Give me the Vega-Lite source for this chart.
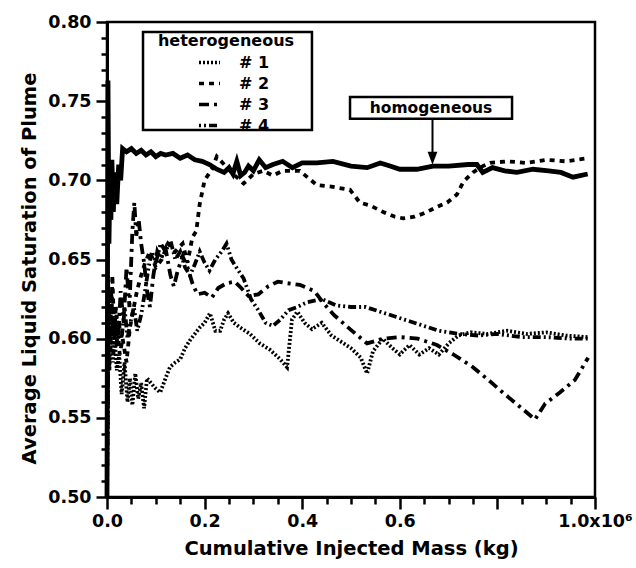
{
  "$schema": "https://vega.github.io/schema/vega-lite/v6.json",
  "width": 488,
  "height": 475,
  "autosize": {"type": "none"},
  "padding": {"left": 107, "top": 22, "right": 41, "bottom": 71},
  "background": "white",
  "config": {
    "font": "DejaVu Sans",
    "view": {"stroke": "black", "strokeWidth": 2.5},
    "axis": {
      "domainColor": "black", "domainWidth": 3, "tickColor": "black", "tickWidth": 2.5,
      "labelColor": "black", "titleColor": "black", "grid": false,
      "labelFont": "DejaVu Sans", "labelFontSize": 17.5, "labelFontWeight": "bold",
      "titleFont": "DejaVu Sans", "titleFontSize": 19.5, "titleFontWeight": "bold",
      "labelOverlap": false, "labelFlush": false, "labelBound": false
    },
    "legend": {
      "orient": "none", "legendX": 51, "legendY": 11, "padding": 0,
      "titleFont": "DejaVu Sans", "titleFontSize": 16, "titleFontWeight": "bold", "titleColor": "black",
      "titlePadding": 1, "titleAnchor": "middle",
      "labelFont": "DejaVu Sans", "labelFontSize": 16, "labelFontWeight": "bold", "labelColor": "black",
      "symbolType": "stroke", "symbolSize": 441, "symbolStrokeWidth": 3.5, "symbolStrokeColor": "black",
      "symbolOffset": 15, "labelOffset": 17, "rowPadding": -1
    }
  },
  "datasets": {
    "het": [
      {"series":"# 1","mass":0,"sat":0.5},{"series":"# 1","mass":2000,"sat":0.6},{"series":"# 1","mass":5000,"sat":0.58},{"series":"# 1","mass":8000,"sat":0.615},{"series":"# 1","mass":12000,"sat":0.585},{"series":"# 1","mass":16000,"sat":0.6},{"series":"# 1","mass":20000,"sat":0.58},{"series":"# 1","mass":25000,"sat":0.59},{"series":"# 1","mass":30000,"sat":0.565},{"series":"# 1","mass":36000,"sat":0.585},{"series":"# 1","mass":42000,"sat":0.56},{"series":"# 1","mass":47000,"sat":0.575},{"series":"# 1","mass":52000,"sat":0.558},{"series":"# 1","mass":58000,"sat":0.578},{"series":"# 1","mass":64000,"sat":0.562},{"series":"# 1","mass":70000,"sat":0.572},{"series":"# 1","mass":76000,"sat":0.556},{"series":"# 1","mass":82000,"sat":0.575},{"series":"# 1","mass":90000,"sat":0.572},{"series":"# 1","mass":98000,"sat":0.569},{"series":"# 1","mass":109000,"sat":0.566},{"series":"# 1","mass":120000,"sat":0.575},{"series":"# 1","mass":129000,"sat":0.582},{"series":"# 1","mass":140000,"sat":0.585},{"series":"# 1","mass":150000,"sat":0.587},{"series":"# 1","mass":160000,"sat":0.594},{"series":"# 1","mass":170000,"sat":0.599},{"series":"# 1","mass":180000,"sat":0.603},{"series":"# 1","mass":190000,"sat":0.607},{"series":"# 1","mass":200000,"sat":0.61},{"series":"# 1","mass":211000,"sat":0.616},{"series":"# 1","mass":222000,"sat":0.605},{"series":"# 1","mass":232000,"sat":0.605},{"series":"# 1","mass":240000,"sat":0.612},{"series":"# 1","mass":248000,"sat":0.616},{"series":"# 1","mass":260000,"sat":0.61},{"series":"# 1","mass":273000,"sat":0.607},{"series":"# 1","mass":293000,"sat":0.603},{"series":"# 1","mass":313000,"sat":0.597},{"series":"# 1","mass":334000,"sat":0.593},{"series":"# 1","mass":355000,"sat":0.587},{"series":"# 1","mass":369000,"sat":0.582},{"series":"# 1","mass":379000,"sat":0.612},{"series":"# 1","mass":390000,"sat":0.617},{"series":"# 1","mass":405000,"sat":0.61},{"series":"# 1","mass":420000,"sat":0.606},{"series":"# 1","mass":440000,"sat":0.61},{"series":"# 1","mass":460000,"sat":0.602},{"series":"# 1","mass":480000,"sat":0.598},{"series":"# 1","mass":500000,"sat":0.594},{"series":"# 1","mass":520000,"sat":0.588},{"series":"# 1","mass":533000,"sat":0.578},{"series":"# 1","mass":545000,"sat":0.592},{"series":"# 1","mass":565000,"sat":0.6},{"series":"# 1","mass":585000,"sat":0.594},{"series":"# 1","mass":600000,"sat":0.59},{"series":"# 1","mass":620000,"sat":0.596},{"series":"# 1","mass":640000,"sat":0.59},{"series":"# 1","mass":660000,"sat":0.594},{"series":"# 1","mass":680000,"sat":0.59},{"series":"# 1","mass":700000,"sat":0.597},{"series":"# 1","mass":720000,"sat":0.602},{"series":"# 1","mass":745000,"sat":0.604},{"series":"# 1","mass":780000,"sat":0.603},{"series":"# 1","mass":820000,"sat":0.605},{"series":"# 1","mass":860000,"sat":0.603},{"series":"# 1","mass":900000,"sat":0.604},{"series":"# 1","mass":940000,"sat":0.602},{"series":"# 1","mass":985000,"sat":0.601},

      {"series":"# 2","mass":0,"sat":0.5},{"series":"# 2","mass":3000,"sat":0.62},{"series":"# 2","mass":7000,"sat":0.59},{"series":"# 2","mass":11000,"sat":0.64},{"series":"# 2","mass":15000,"sat":0.6},{"series":"# 2","mass":20000,"sat":0.615},{"series":"# 2","mass":26000,"sat":0.59},{"series":"# 2","mass":32000,"sat":0.6},{"series":"# 2","mass":40000,"sat":0.585},{"series":"# 2","mass":47000,"sat":0.607},{"series":"# 2","mass":55000,"sat":0.62},{"series":"# 2","mass":62000,"sat":0.631},{"series":"# 2","mass":70000,"sat":0.64},{"series":"# 2","mass":78000,"sat":0.648},{"series":"# 2","mass":88000,"sat":0.655},{"series":"# 2","mass":100000,"sat":0.645},{"series":"# 2","mass":112000,"sat":0.65},{"series":"# 2","mass":125000,"sat":0.66},{"series":"# 2","mass":140000,"sat":0.655},{"series":"# 2","mass":155000,"sat":0.66},{"series":"# 2","mass":165000,"sat":0.648},{"series":"# 2","mass":175000,"sat":0.664},{"series":"# 2","mass":183000,"sat":0.668},{"series":"# 2","mass":190000,"sat":0.685},{"series":"# 2","mass":200000,"sat":0.7},{"series":"# 2","mass":215000,"sat":0.707},{"series":"# 2","mass":225000,"sat":0.715},{"series":"# 2","mass":240000,"sat":0.71},{"series":"# 2","mass":255000,"sat":0.705},{"series":"# 2","mass":280000,"sat":0.698},{"series":"# 2","mass":300000,"sat":0.704},{"series":"# 2","mass":320000,"sat":0.706},{"series":"# 2","mass":340000,"sat":0.703},{"series":"# 2","mass":360000,"sat":0.706},{"series":"# 2","mass":395000,"sat":0.706},{"series":"# 2","mass":430000,"sat":0.697},{"series":"# 2","mass":460000,"sat":0.696},{"series":"# 2","mass":498000,"sat":0.694},{"series":"# 2","mass":518000,"sat":0.686},{"series":"# 2","mass":540000,"sat":0.684},{"series":"# 2","mass":566000,"sat":0.68},{"series":"# 2","mass":590000,"sat":0.677},{"series":"# 2","mass":607000,"sat":0.676},{"series":"# 2","mass":630000,"sat":0.677},{"series":"# 2","mass":648000,"sat":0.679},{"series":"# 2","mass":675000,"sat":0.683},{"series":"# 2","mass":697000,"sat":0.686},{"series":"# 2","mass":717000,"sat":0.691},{"series":"# 2","mass":730000,"sat":0.699},{"series":"# 2","mass":750000,"sat":0.705},{"series":"# 2","mass":770000,"sat":0.709},{"series":"# 2","mass":785000,"sat":0.711},{"series":"# 2","mass":820000,"sat":0.712},{"series":"# 2","mass":860000,"sat":0.711},{"series":"# 2","mass":900000,"sat":0.713},{"series":"# 2","mass":940000,"sat":0.712},{"series":"# 2","mass":985000,"sat":0.714},

      {"series":"# 3","mass":0,"sat":0.5},{"series":"# 3","mass":2000,"sat":0.64},{"series":"# 3","mass":5000,"sat":0.6},{"series":"# 3","mass":9000,"sat":0.63},{"series":"# 3","mass":13000,"sat":0.59},{"series":"# 3","mass":18000,"sat":0.62},{"series":"# 3","mass":23000,"sat":0.6},{"series":"# 3","mass":28000,"sat":0.63},{"series":"# 3","mass":34000,"sat":0.61},{"series":"# 3","mass":40000,"sat":0.645},{"series":"# 3","mass":46000,"sat":0.62},{"series":"# 3","mass":52000,"sat":0.668},{"series":"# 3","mass":56000,"sat":0.686},{"series":"# 3","mass":60000,"sat":0.665},{"series":"# 3","mass":65000,"sat":0.675},{"series":"# 3","mass":70000,"sat":0.66},{"series":"# 3","mass":76000,"sat":0.648},{"series":"# 3","mass":82000,"sat":0.63},{"series":"# 3","mass":88000,"sat":0.62},{"series":"# 3","mass":95000,"sat":0.64},{"series":"# 3","mass":103000,"sat":0.655},{"series":"# 3","mass":110000,"sat":0.65},{"series":"# 3","mass":120000,"sat":0.657},{"series":"# 3","mass":130000,"sat":0.64},{"series":"# 3","mass":137000,"sat":0.633},{"series":"# 3","mass":145000,"sat":0.643},{"series":"# 3","mass":155000,"sat":0.652},{"series":"# 3","mass":165000,"sat":0.645},{"series":"# 3","mass":175000,"sat":0.635},{"series":"# 3","mass":185000,"sat":0.628},{"series":"# 3","mass":200000,"sat":0.629},{"series":"# 3","mass":215000,"sat":0.626},{"series":"# 3","mass":228000,"sat":0.632},{"series":"# 3","mass":245000,"sat":0.635},{"series":"# 3","mass":262000,"sat":0.636},{"series":"# 3","mass":275000,"sat":0.632},{"series":"# 3","mass":290000,"sat":0.627},{"series":"# 3","mass":310000,"sat":0.628},{"series":"# 3","mass":330000,"sat":0.633},{"series":"# 3","mass":350000,"sat":0.636},{"series":"# 3","mass":370000,"sat":0.635},{"series":"# 3","mass":395000,"sat":0.634},{"series":"# 3","mass":425000,"sat":0.63},{"series":"# 3","mass":445000,"sat":0.622},{"series":"# 3","mass":465000,"sat":0.615},{"series":"# 3","mass":498000,"sat":0.606},{"series":"# 3","mass":533000,"sat":0.597},{"series":"# 3","mass":566000,"sat":0.6},{"series":"# 3","mass":600000,"sat":0.601},{"series":"# 3","mass":637000,"sat":0.6},{"series":"# 3","mass":676000,"sat":0.596},{"series":"# 3","mass":710000,"sat":0.59},{"series":"# 3","mass":750000,"sat":0.582},{"series":"# 3","mass":785000,"sat":0.573},{"series":"# 3","mass":811000,"sat":0.566},{"series":"# 3","mass":846000,"sat":0.557},{"series":"# 3","mass":877000,"sat":0.549},{"series":"# 3","mass":898000,"sat":0.559},{"series":"# 3","mass":928000,"sat":0.566},{"series":"# 3","mass":959000,"sat":0.574},{"series":"# 3","mass":986000,"sat":0.588},

      {"series":"# 4","mass":0,"sat":0.5},{"series":"# 4","mass":3000,"sat":0.6},{"series":"# 4","mass":6000,"sat":0.63},{"series":"# 4","mass":10000,"sat":0.6},{"series":"# 4","mass":14000,"sat":0.62},{"series":"# 4","mass":19000,"sat":0.595},{"series":"# 4","mass":24000,"sat":0.61},{"series":"# 4","mass":30000,"sat":0.6},{"series":"# 4","mass":36000,"sat":0.62},{"series":"# 4","mass":42000,"sat":0.6},{"series":"# 4","mass":48000,"sat":0.61},{"series":"# 4","mass":55000,"sat":0.62},{"series":"# 4","mass":62000,"sat":0.605},{"series":"# 4","mass":70000,"sat":0.615},{"series":"# 4","mass":78000,"sat":0.63},{"series":"# 4","mass":85000,"sat":0.645},{"series":"# 4","mass":92000,"sat":0.655},{"series":"# 4","mass":100000,"sat":0.648},{"series":"# 4","mass":110000,"sat":0.66},{"series":"# 4","mass":120000,"sat":0.655},{"series":"# 4","mass":130000,"sat":0.662},{"series":"# 4","mass":140000,"sat":0.65},{"series":"# 4","mass":150000,"sat":0.655},{"series":"# 4","mass":160000,"sat":0.645},{"series":"# 4","mass":170000,"sat":0.64},{"series":"# 4","mass":180000,"sat":0.647},{"series":"# 4","mass":190000,"sat":0.655},{"series":"# 4","mass":200000,"sat":0.648},{"series":"# 4","mass":210000,"sat":0.643},{"series":"# 4","mass":222000,"sat":0.65},{"series":"# 4","mass":235000,"sat":0.655},{"series":"# 4","mass":245000,"sat":0.66},{"series":"# 4","mass":255000,"sat":0.65},{"series":"# 4","mass":265000,"sat":0.645},{"series":"# 4","mass":280000,"sat":0.638},{"series":"# 4","mass":295000,"sat":0.625},{"series":"# 4","mass":310000,"sat":0.618},{"series":"# 4","mass":325000,"sat":0.61},{"series":"# 4","mass":340000,"sat":0.608},{"series":"# 4","mass":355000,"sat":0.612},{"series":"# 4","mass":372000,"sat":0.618},{"series":"# 4","mass":390000,"sat":0.62},{"series":"# 4","mass":410000,"sat":0.623},{"series":"# 4","mass":440000,"sat":0.625},{"series":"# 4","mass":470000,"sat":0.621},{"series":"# 4","mass":500000,"sat":0.62},{"series":"# 4","mass":530000,"sat":0.62},{"series":"# 4","mass":560000,"sat":0.617},{"series":"# 4","mass":590000,"sat":0.614},{"series":"# 4","mass":620000,"sat":0.611},{"series":"# 4","mass":650000,"sat":0.608},{"series":"# 4","mass":680000,"sat":0.605},{"series":"# 4","mass":720000,"sat":0.603},{"series":"# 4","mass":760000,"sat":0.602},{"series":"# 4","mass":800000,"sat":0.603},{"series":"# 4","mass":850000,"sat":0.601},{"series":"# 4","mass":900000,"sat":0.601},{"series":"# 4","mass":950000,"sat":0.6},{"series":"# 4","mass":985000,"sat":0.6}
    ],
    "homo": [
      {"mass":0,"sat":0.5},{"mass":2000,"sat":0.763},{"mass":4000,"sat":0.66},{"mass":6000,"sat":0.7},{"mass":8000,"sat":0.675},{"mass":10000,"sat":0.713},{"mass":13000,"sat":0.68},{"mass":16000,"sat":0.705},{"mass":20000,"sat":0.685},{"mass":24000,"sat":0.71},{"mass":28000,"sat":0.7},{"mass":32000,"sat":0.72},{"mass":40000,"sat":0.718},{"mass":50000,"sat":0.72},{"mass":60000,"sat":0.717},{"mass":70000,"sat":0.719},{"mass":80000,"sat":0.716},{"mass":90000,"sat":0.718},{"mass":100000,"sat":0.715},{"mass":110000,"sat":0.717},{"mass":120000,"sat":0.716},{"mass":135000,"sat":0.717},{"mass":150000,"sat":0.714},{"mass":165000,"sat":0.716},{"mass":180000,"sat":0.713},{"mass":195000,"sat":0.712},{"mass":210000,"sat":0.71},{"mass":225000,"sat":0.707},{"mass":240000,"sat":0.705},{"mass":250000,"sat":0.708},{"mass":258000,"sat":0.704},{"mass":266000,"sat":0.712},{"mass":274000,"sat":0.703},{"mass":282000,"sat":0.705},{"mass":290000,"sat":0.709},{"mass":300000,"sat":0.706},{"mass":312000,"sat":0.713},{"mass":325000,"sat":0.708},{"mass":340000,"sat":0.71},{"mass":360000,"sat":0.712},{"mass":380000,"sat":0.708},{"mass":400000,"sat":0.711},{"mass":430000,"sat":0.711},{"mass":463000,"sat":0.712},{"mass":500000,"sat":0.709},{"mass":533000,"sat":0.708},{"mass":560000,"sat":0.711},{"mass":580000,"sat":0.709},{"mass":600000,"sat":0.707},{"mass":635000,"sat":0.707},{"mass":668000,"sat":0.709},{"mass":700000,"sat":0.709},{"mass":740000,"sat":0.71},{"mass":758000,"sat":0.71},{"mass":770000,"sat":0.705},{"mass":790000,"sat":0.708},{"mass":815000,"sat":0.706},{"mass":840000,"sat":0.705},{"mass":873000,"sat":0.707},{"mass":905000,"sat":0.706},{"mass":930000,"sat":0.705},{"mass":955000,"sat":0.702},{"mass":985000,"sat":0.704}
    ],
    "boxes": [
      {"mass":73800,"mass2":420000,"sat":0.7937,"sat2":0.7318},
      {"mass":498000,"mass2":830000,"sat":0.7526,"sat2":0.7389}
    ],
    "labels": [{"mass":664000,"sat":0.7457,"label":"homogeneous"}],
    "arrow": [{"mass":667000,"sat":0.7389,"sat2":0.716}],
    "head": [{"mass":667000,"sat":0.7139}]
  },
  "encoding": {
    "x": {
      "field": "mass", "type": "quantitative",
      "scale": {"domain": [0, 1000000], "nice": false, "zero": false},
      "axis": {
        "title": "Cumulative Injected Mass (kg)",
        "values": [0,50000,100000,150000,200000,250000,300000,350000,400000,450000,500000,550000,600000,650000,700000,750000,800000,850000,900000,950000,1000000],
        "labelExpr": "datum.value == 1000000 ? '1.0x10⁶' : ((datum.value % 200000 == 0 && datum.value != 800000) ? format(datum.value / 1000000, '.1f') : '')",
        "tickSize": {"condition": {"test": "datum.value % 200000 == 0", "value": 12}, "value": 7},
        "labelPadding": 3,
        "titlePadding": 10
      }
    },
    "y": {
      "field": "sat", "type": "quantitative",
      "scale": {"domain": [0.5, 0.8], "nice": false, "zero": false},
      "axis": {
        "title": "Average Liquid Saturation of Plume",
        "values": [0.5,0.51,0.52,0.53,0.54,0.55,0.56,0.57,0.58,0.59,0.6,0.61,0.62,0.63,0.64,0.65,0.66,0.67,0.68,0.69,0.7,0.71,0.72,0.73,0.74,0.75,0.76,0.77,0.78,0.79,0.8],
        "labelExpr": "round(datum.value * 100) % 5 == 0 ? format(datum.value, '.2f') : ''",
        "tickSize": {"condition": {"test": "round(datum.value * 100) % 5 == 0", "value": 11}, "value": 6},
        "labelPadding": 5,
        "titlePadding": 8,
        "titleY": 246
      }
    }
  },
  "layer": [
    {
      "data": {"name": "het"},
      "mark": {"type": "line", "color": "black", "strokeWidth": 3.8},
      "encoding": {
        "strokeDash": {
          "field": "series", "type": "nominal",
          "scale": {"domain": ["# 1", "# 2", "# 3", "# 4"], "range": [[2, 2], [5, 5], [10, 5, 3, 5], [2, 3, 2, 3, 8, 3]]},
          "legend": {"title": "heterogeneous"}
        }
      }
    },
    {
      "data": {"name": "homo"},
      "mark": {"type": "line", "color": "black", "strokeWidth": 4.8},
      "encoding": {}
    },
    {
      "data": {"name": "boxes"},
      "mark": {"type": "rect", "fill": "white", "stroke": "black", "strokeWidth": 2.5},
      "encoding": {"x2": {"field": "mass2"}, "y2": {"field": "sat2"}}
    },
    {
      "data": {"name": "labels"},
      "mark": {"type": "text", "font": "DejaVu Sans", "fontSize": 15.5, "fontWeight": "bold", "color": "black", "align": "center", "baseline": "middle"},
      "encoding": {"text": {"field": "label"}}
    },
    {
      "data": {"name": "arrow"},
      "mark": {"type": "rule", "color": "black", "strokeWidth": 2},
      "encoding": {"y2": {"field": "sat2"}}
    },
    {
      "data": {"name": "head"},
      "mark": {"type": "point", "shape": "M-0.75,-1L0.75,-1L0,1Z", "size": 170, "filled": true, "color": "black", "opacity": 1},
      "encoding": {}
    }
  ]
}
